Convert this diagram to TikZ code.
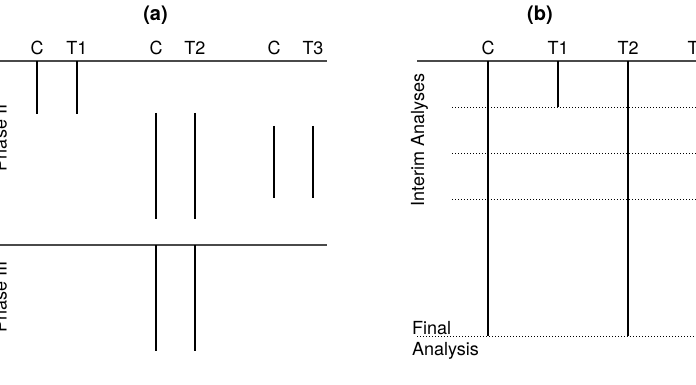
\documentclass[tikz,border=0pt]{standalone}
\usepackage{fontspec}
\setmainfont{TeX Gyre Heros}
\usetikzlibrary{positioning, calc}
\definecolor{cline}{HTML}{4A4A4A}
\tikzset{
  every picture/.style={font=\fontsize{18}{21}\selectfont},
  axis/.style={draw=cline, line width=1.3pt},
  bar/.style={draw=black, line width=2pt},
  look/.style={draw=black, line width=0.9pt, dash pattern=on 1.2pt off 1.8pt},
  arm/.style={anchor=base, inner sep=0pt},
  title/.style={font=\bfseries\fontsize{20}{23}\selectfont, anchor=base, inner sep=0pt},
  side/.style={rotate=90, anchor=base, inner sep=0pt},
}

\begin{document}
\begin{tikzpicture}[x=1pt, y=-1pt]
  \useasboundingbox (0,0) rectangle (696,385);
  \clip (0,0) rectangle (696,385);
  % (a): phase II and phase III
  \node[title] (ta) at (155.5,20.5) {(a)};
  \coordinate (a1) at (0,61);   \coordinate (a1e) at (327,61);
  \coordinate (a2) at (0,245);  \coordinate (a2e) at (327,245);
  \draw[axis] (a1) -- (a1e);
  \draw[axis] (a2) -- (a2e);
  \foreach \n/\t/\x in {c1/C/37, t1/T1/77, c2/C/156, t2/T2/195, c3/C/274, t3/T3/313}
    \node[arm] (a\n) at (\x,55) {\t};
  \foreach \n/\ya/\yb in {c1/61/114, t1/61/114, c2/113/219, t2/113/219, c3/126/198, t3/126/198, c2/245/351, t2/245/351}
    \draw[bar] (a\n |- 0,\ya) -- (a\n |- 0,\yb);
  \node[side] (ph2) at (6.5,138) {Phase II};
  \node[side] (ph3) at (6.5,297) {Phase III};
  % (b): interim analyses
  \node[title] (tb) at (540,20.5) {(b)};
  \coordinate (b1) at (417,61);  \coordinate (b1e) at (700,61);
  \draw[axis] (b1) -- (b1e);
  \foreach \n/\t/\x in {c/C/488, t1/T1/558, t2/T2/628, t3/T3/698}
    \node[arm] (b\n) at (\x,55) {\t};
  \foreach \y in {107,153,199}
    \draw[look] (452,\y) -- (700,\y);
  \draw[look] (417,336) -- (700,336);
  \foreach \n/\yb in {c/336, t1/107, t2/336}
    \draw[bar] (b\n |- b1) -- (b\n |- 0,\yb);
  \node[side] (ia) at (424,140) {Interim Analyses};
  \node[anchor=base west, inner sep=0pt] (fin) at (412,334) {Final};
  \node[anchor=base west, inner sep=0pt] (ana) at (412,355) {Analysis};
\end{tikzpicture}
\end{document}
